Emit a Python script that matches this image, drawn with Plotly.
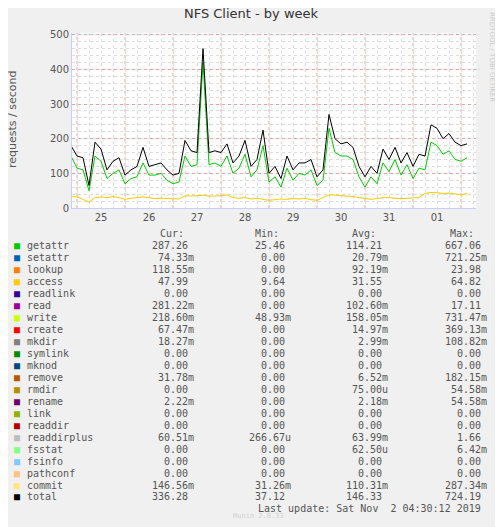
import plotly.graph_objects as go

hours = [-3 + 3 * i for i in range(67)]
total = [180,
 150,145,65,190,170,110,135,145,
 95,110,120,175,120,125,130,110,
 95,100,195,165,160,460,160,165,
 160,185,130,150,195,120,140,225,
 100,120,85,150,110,130,130,140,
 90,110,270,200,185,190,175,120,
 90,120,100,170,140,175,130,160,
 120,155,150,240,230,200,215,190,
 180,185]
getattr_ = [150,
 115,110,50,150,135,85,100,110,
 70,85,90,130,95,95,100,80,
 70,75,150,120,125,420,125,130,
 120,150,100,115,155,90,110,180,
 75,90,60,115,80,100,95,110,
 65,80,230,160,150,150,140,90,
 60,90,70,130,105,140,95,125,
 85,115,110,190,180,155,165,140,
 135,145]
access = [33,
 32,25,17,30,32,30,33,30,
 25,28,30,32,30,27,28,27,
 25,26,35,34,35,37,34,35,
 35,38,30,28,30,26,28,25,
 22,24,26,25,27,26,28,24,
 22,30,38,37,36,35,33,30,
 28,25,27,30,30,28,27,28,
 28,30,42,45,44,42,43,40,
 38,42]

day_ticks = [12 + 24 * i for i in range(8)]
day_labels = ["25", "26", "27", "28", "29", "30", "31", "01"]

legend_names = ["getattr","setattr","lookup","access","readlink","read","write","create","mkdir","symlink","mknod","remove","rmdir","rename","link","readdir","readdirplus","fsstat","fsinfo","pathconf","commit","total"]
legend_colors = ["#00CC00","#0066B3","#FF8000","#FFCC00","#330099","#990099","#CCFF00","#FF0000","#808080","#008F00","#00487D","#B35A00","#B38F00","#6B006B","#8FB300","#B30000","#BEBEBE","#80FF80","#80C9FF","#FFC080","#FFE680","#000000"]
cur = ["287.26","74.33m","118.55m","47.99","0.00","281.22m","218.60m","67.47m","18.27m","0.00","0.00","31.78m","0.00","2.22m","0.00","0.00","60.51m","0.00","0.00","0.00","146.56m","336.28"]
mins = ["25.46","0.00","0.00","9.64","0.00","0.00","48.93m","0.00","0.00","0.00","0.00","0.00","0.00","0.00","0.00","0.00","266.67u","0.00","0.00","0.00","31.26m","37.12"]
avgs = ["114.21","20.79m","92.19m","31.55","0.00","102.60m","158.05m","14.97m","2.99m","0.00","0.00","6.52m","75.00u","2.18m","0.00","0.00","63.99m","62.50u","0.00","0.00","110.31m","146.33"]
maxs = ["667.06","721.25m","23.98","64.82","0.00","17.11","731.47m","369.13m","108.82m","0.00","0.00","182.15m","54.58m","54.58m","0.00","0.00","1.66","6.42m","0.00","0.00","287.34m","724.19"]

W, H = 503, 527
OFF = 8  # page body offset
L, R, T, B = 72 - OFF, 27 + OFF, 33 - OFF, 319 + OFF
pw, ph = W - L - R, H - T - B
def px(x): return (x - OFF - L) / pw
def py(y): return (H - B - (y - OFF)) / ph

fig = go.Figure()
fig.add_trace(go.Scatter(x=hours, y=access, mode="lines", line=dict(color="#FFCC00", width=1), hoverinfo="skip"))
fig.add_trace(go.Scatter(x=hours, y=getattr_, mode="lines", line=dict(color="#00CC00", width=1), hoverinfo="skip"))
fig.add_trace(go.Scatter(x=hours, y=total, mode="lines", line=dict(color="#000000", width=1), hoverinfo="skip"))

shapes = []
for d in range(9):
    shapes.append(dict(type="line", xref="x", yref="paper", x0=24*d, x1=24*d, y0=0, y1=1,
                       line=dict(color="#F0A0A0", width=1, dash="dot"), layer="below"))
annotations = []
mono = "DejaVu Sans Mono"
fc = "#555555"
def ann(x, y, text, xanchor="left", color=fc, size=10, family=mono):
    annotations.append(dict(x=px(x), y=py(y), xref="paper", yref="paper", text=text, showarrow=False,
                            xanchor=xanchor, yanchor="middle", font=dict(family=family, size=size, color=color)))

ann(186, 233, "Cur:", "right"); ann(281, 233, "Min:", "right"); ann(378, 233, "Avg:", "right"); ann(476, 233, "Max:", "right")
def fmt(v):
    return v if v[-1] in "mu" else v + " "
for i, n in enumerate(legend_names):
    y = 245 + 12 * i
    ann(12, y, "■", color=legend_colors[i], size=10)
    ann(25, y, n)
    ann(196, y, fmt(cur[i]), "right")
    ann(293, y, fmt(mins[i]), "right")
    ann(390, y, fmt(avgs[i]), "right")
    ann(489, y, fmt(maxs[i]), "right")
ann(258, 516, "Munin 2.0.33", "center", color="#D0D0D0", size=7)
ann(489, 509, "Last update: Sat Nov  2 04:30:12 2019 ", "right")
annotations.append(dict(x=px(492), y=py(10), xref="paper", yref="paper", text="RRDTOOL / TOBI OETIKER",
                        showarrow=False, textangle=90, xanchor="center", yanchor="top",
                        font=dict(family="DejaVu Sans", size=7, color="#CCCCCC")))
annotations.append(dict(x=px(12), y=py(120), xref="paper", yref="paper", text="requests / second",
                        showarrow=False, textangle=-90, xanchor="center", yanchor="middle",
                        font=dict(family="DejaVu Sans", size=11, color="#555555")))

fig.update_layout(
    width=W, height=H, margin=dict(l=L, r=R, t=T, b=B),
    paper_bgcolor="#F0F0F0", plot_bgcolor="#FFFFFF", showlegend=False,
    title=dict(text="NFS Client - by week", x=px(251), xref="paper", xanchor="center",
               y=1 - (13 - OFF)/H, yanchor="middle",
               font=dict(family="DejaVu Sans", size=13, color="#333333")),
    shapes=shapes, annotations=annotations,
    xaxis=dict(range=[-2.5, 199.5], tickvals=day_ticks, ticktext=day_labels, showgrid=False,
               zeroline=False, ticks="", tickfont=dict(family="DejaVu Sans", size=10, color="#555555"),
               minor=dict(dtick=6, tick0=0, showgrid=True, gridcolor="#DDDDDD", griddash="dot"),
               showline=True, linecolor="#CCCCFF"),
    yaxis=dict(range=[0, 505], dtick=100, gridcolor="#F0A0A0", griddash="dot", zeroline=False,
               tickfont=dict(family="DejaVu Sans", size=10, color="#555555"),
               minor=dict(dtick=20, showgrid=True, gridcolor="#DDDDDD", griddash="dot"),
               showline=True, linecolor="#CCCCFF"),
)
fig.write_html("out.html")
